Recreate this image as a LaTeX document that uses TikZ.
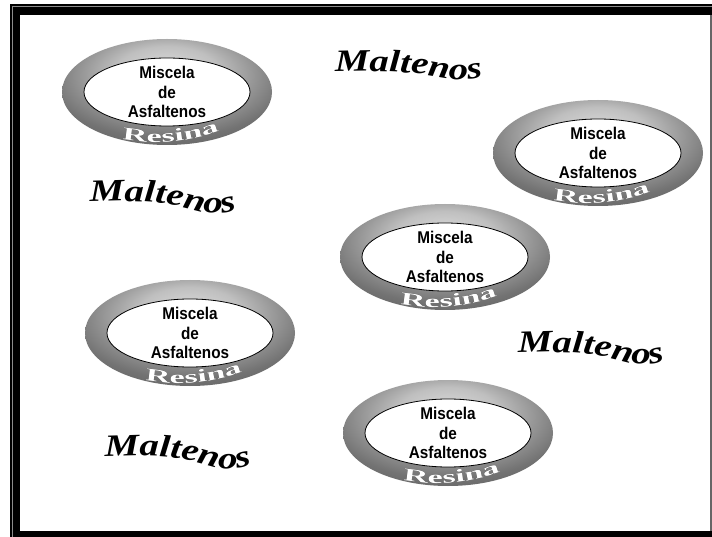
\documentclass[tikz,border=0pt]{standalone}
\usepackage{fontspec}
\setmainfont{Liberation Sans}
\newfontfamily\corefont[FakeStretch=0.9]{Liberation Sans Bold}
\newfontfamily\maltfont[FakeStretch=1.25]{Liberation Serif Bold Italic}
\newfontfamily\resfont[FakeStretch=1.9]{Liberation Serif Bold}
\usetikzlibrary{shapes.geometric,decorations.text}

% grey ring: light near the top, darker towards the sides and the bottom
\pgfdeclareradialshading{ringshade}{\pgfpoint{0bp}{12bp}}{%
  color(0bp)=(black!15); color(12bp)=(black!25); color(28bp)=(black!55);
  color(38bp)=(black!65); color(60bp)=(black!65)}

\tikzset{
  ringouter/.style={ellipse, minimum width=210pt, minimum height=106pt,
    inner sep=0pt, shade, shading=ringshade},
  ringinner/.style={ellipse, draw=black, line width=0.8pt, fill=white,
    minimum width=166pt, minimum height=68pt, inner sep=0pt},
  coretext/.style={align=center, inner sep=0pt,
    font=\corefont\fontsize{17}{19.5}\selectfont},
  resina/.style={decorate, decoration={text along path, text align=center,
    text color=#1,
    text={|\resfont\fontsize{18}{18}\selectfont|Resina}}},
  maltenos/.style={decorate, decoration={text along path, text align=left,
    text={|\maltfont\fontsize{31}{31}\selectfont|Maltenos}}},
}

% one asphaltene micelle with its resin ring; #1 name, (#2,#3) centre (y downwards)
\newcommand\asfgroup[3]{%
  \node[ringouter] (ring#1) at (#2,-#3) {};
  \node[ringinner] (core#1) at (ring#1.center) {};
  \node[coretext] (txt#1) at (core#1.center) {Miscela\\de\\Asfaltenos};
  \foreach \dx/\dy/\col in {0.7/-0.7/black!80, -0.6/0.6/black!60,
      0.6/0.6/black!65, -0.6/-0.6/black!70, 0/0/white}{
    \path[resina=\col, shift={(\dx pt,\dy pt)},
      rotate around={5:(ring#1.center)}]
      ([shift={(232:97pt and 50pt)}]ring#1.center)
      arc[start angle=232, end angle=308, x radius=97pt, y radius=50pt];
  }
}

% wavy "Maltenos" word; #1 name, (#2,#3) start of the baseline, #4 depth of the wave
\newcommand\maltword[4]{%
  \coordinate (#1) at (#2,-#3);
  \path[maltenos, shift={(#1)}] (0,0)
    .. controls (40,{0.15*#4}) and (75,{0.1*#4}) .. (100,{-0.6*#4})
    .. controls (115,{-0.95*#4}) and (135,{-1.1*#4}) .. (150,{-0.5*#4})
    .. controls (155,{-0.3*#4}) and (160,0) .. (170,{0.3*#4});
}

\begin{document}
\begin{tikzpicture}[x=1pt, y=1pt]
\useasboundingbox (0,0) rectangle (712,-537);

% frame
\fill[black] (10,-4) rectangle (712,-537);
\draw[black!45, line width=1pt] (12.5,-537) -- (12.5,-6.5) -- (712,-6.5);
\fill[white] (20,-15) rectangle (709.5,-531);
\fill[black!60] (709.5,-15) rectangle (712,-531);

% micelles
\asfgroup{a}{167}{92}
\asfgroup{b}{598}{153}
\asfgroup{c}{445}{257}
\asfgroup{d}{190}{333}
\asfgroup{e}{448}{433}

% surrounding maltenes
\maltword{m1}{335}{72}{8}
\maltword{m2}{90}{202}{12}
\maltword{m3}{518}{353}{12}
\maltword{m4}{105}{457}{13}
\end{tikzpicture}
\end{document}
